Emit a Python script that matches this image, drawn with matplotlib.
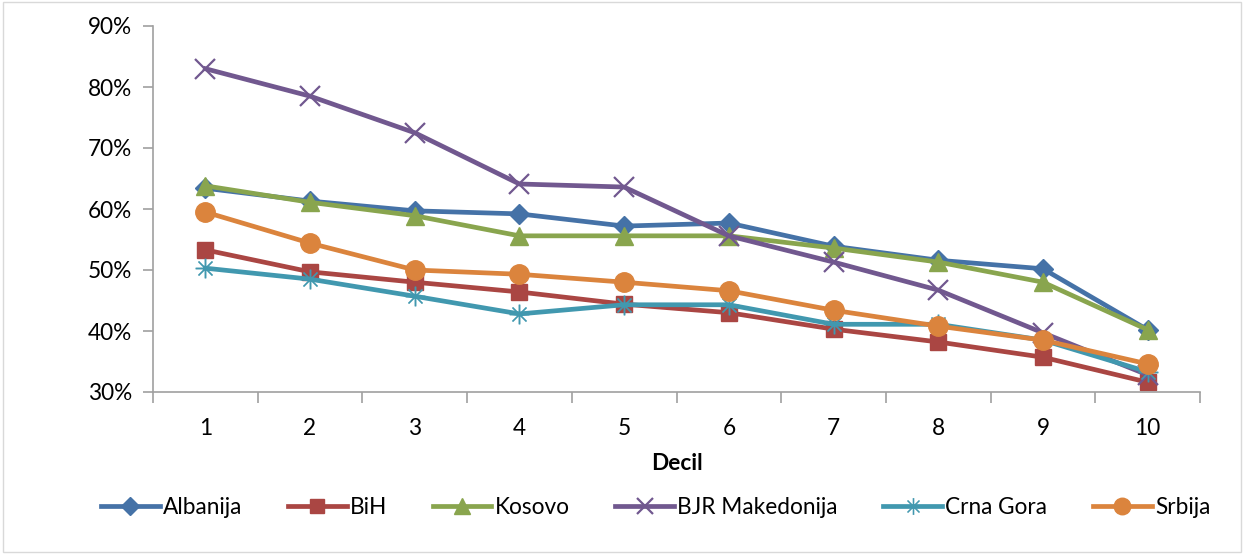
import matplotlib
matplotlib.use("Agg")
import matplotlib.pyplot as plt
from matplotlib.patches import Rectangle
from matplotlib.ticker import FuncFormatter, FixedLocator

deciles = [1, 2, 3, 4, 5, 6, 7, 8, 9, 10]

albanija = [63.4, 61.3, 59.7, 59.2, 57.2, 57.7, 53.9, 51.6, 50.2, 40.2]
bih = [53.3, 49.7, 48.0, 46.4, 44.4, 43.0, 40.3, 38.2, 35.7, 31.6]
kosovo = [63.8, 61.1, 58.9, 55.6, 55.6, 55.6, 53.6, 51.3, 48.0, 40.2]
makedonija = [83.0, 78.5, 72.5, 64.1, 63.6, 55.6, 51.3, 46.7, 39.7, 32.8]
crna_gora = [50.3, 48.5, 45.7, 42.8, 44.3, 44.3, 41.1, 41.1, 38.5, 33.3]
srbija = [59.5, 54.4, 50.0, 49.3, 48.0, 46.6, 43.4, 40.8, 38.5, 34.6]

series = [
    ("Albanija", albanija, "#4572A7", "D", 10.5),
    ("BiH", bih, "#AA4643", "s", 12),
    ("Kosovo", kosovo, "#89A54E", "^", 13),
    ("BJR Makedonija", makedonija, "#71588F", "x", 14),
    ("Crna Gora", crna_gora, "#4198AF", "$\u2733$", 14),
    ("Srbija", srbija, "#DB843D", "o", 14),
]

plt.rcParams["font.family"] = ["Lato", "DejaVu Sans"]
FS = 16.3

fig = plt.figure(figsize=(12.44, 5.54), dpi=100)
W, H = 1244, 554
ax = fig.add_axes([153 / W, 1 - 392 / H, (1200 - 153) / W, (392 - 26) / H])

for name, vals, color, marker, ms in series:
    kw = dict(color=color, lw=3.4, marker=marker, markersize=ms, label=name)
    if marker == "x":
        kw.update(markeredgewidth=1.6)
    elif marker.startswith("$"):
        kw.update(markeredgewidth=0.3)
    ax.plot(deciles, vals, **kw)

ax.set_xlim(0.5, 10.5)
ax.set_ylim(30, 90)
ax.set_yticks(range(30, 91, 10))
ax.yaxis.set_major_formatter(FuncFormatter(lambda v, p: f"{int(v)}%"))
ax.set_xticks(deciles)
ax.xaxis.set_minor_locator(FixedLocator([d + 0.5 for d in [0] + deciles]))
ax.tick_params(axis="x", which="major", length=0, pad=19, labelsize=FS)
ax.tick_params(axis="x", which="minor", length=8, width=1.2, color="#A0A0A0")
ax.tick_params(axis="y", length=7, width=1.2, color="#A0A0A0", labelsize=FS, pad=8)

for side in ("top", "right"):
    ax.spines[side].set_visible(False)
for side in ("left", "bottom"):
    ax.spines[side].set_color("#A0A0A0")
    ax.spines[side].set_linewidth(1.2)

ax.set_xlabel("Decil", fontsize=FS, fontweight="bold", labelpad=10)

leg = fig.legend(loc="center", bbox_to_anchor=(0.527, 1 - 507 / H), ncol=6,
                 frameon=False, fontsize=FS, handlelength=2.6, handletextpad=0.15,
                 columnspacing=2.0, markerscale=0.85)

fig.patches.append(Rectangle((3 / W, 2 / H), 1 - 6 / W, 1 - 4 / H,
                             transform=fig.transFigure, fill=False,
                             edgecolor="#D9D9D9", lw=1))

fig.savefig("out.png", dpi=100)
